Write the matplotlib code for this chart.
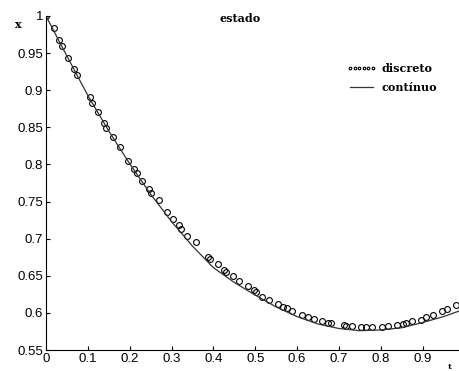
import numpy as np
import matplotlib.pyplot as plt

plt.rcParams['font.family'] = ['Liberation Sans', 'DejaVu Sans']

# discrete samples
t_disc = [0.000, 0.018, 0.032, 0.038, 0.053, 0.067, 0.074, 0.104, 0.109, 0.125,
          0.139, 0.144, 0.160, 0.176, 0.197, 0.210, 0.217, 0.230, 0.245, 0.251,
          0.269, 0.289, 0.303, 0.317, 0.323, 0.338, 0.358, 0.388, 0.392, 0.410,
          0.426, 0.430, 0.447, 0.462, 0.482, 0.496, 0.502, 0.516, 0.532, 0.554,
          0.567, 0.575, 0.588, 0.611, 0.625, 0.640, 0.660, 0.675, 0.680, 0.711,
          0.717, 0.731, 0.752, 0.765, 0.780, 0.804, 0.817, 0.839, 0.852, 0.861,
          0.875, 0.896, 0.909, 0.925, 0.946, 0.958, 0.981]
x_disc = [1.000, 0.984, 0.968, 0.959, 0.944, 0.928, 0.921, 0.891, 0.883, 0.870,
          0.856, 0.849, 0.837, 0.824, 0.805, 0.794, 0.788, 0.778, 0.767, 0.761,
          0.752, 0.736, 0.727, 0.718, 0.713, 0.704, 0.695, 0.675, 0.673, 0.666,
          0.658, 0.655, 0.650, 0.643, 0.636, 0.631, 0.628, 0.622, 0.618, 0.612,
          0.608, 0.606, 0.603, 0.597, 0.595, 0.592, 0.589, 0.587, 0.587, 0.584,
          0.583, 0.583, 0.581, 0.581, 0.581, 0.581, 0.582, 0.584, 0.585, 0.587,
          0.589, 0.591, 0.594, 0.597, 0.602, 0.605, 0.610]

# continuous solution
t_cont = [0.0, 0.05, 0.1, 0.15, 0.2, 0.25, 0.3, 0.35, 0.4, 0.45, 0.5, 0.55,
          0.6, 0.65, 0.7, 0.75, 0.8, 0.85, 0.9, 0.95, 0.99]
x_cont = [1.0, 0.946, 0.893, 0.845, 0.801, 0.760, 0.723, 0.690, 0.661, 0.641,
          0.624, 0.608, 0.595, 0.585, 0.579, 0.576, 0.577, 0.580, 0.587, 0.595,
          0.603]

fig = plt.figure(figsize=(4.59, 3.71), dpi=100)
ax = fig.add_axes([0.1002, 0.0566, 0.8998, 0.9003])

ax.plot(t_disc, x_disc, 'o', mfc='none', mec='black', ms=4.2, mew=0.8,
        label='discreto')
ax.plot(t_cont, x_cont, '-', color='#333333', lw=0.9, label='contínuo')

ax.set_xlim(0, 0.987)
ax.set_ylim(0.55, 1.0)
ax.set_xticks(np.arange(0, 1.0, 0.1))
ax.set_xticklabels(['0', '0.1', '0.2', '0.3', '0.4', '0.5', '0.6', '0.7', '0.8', '0.9'])
ax.set_yticks(np.arange(0.55, 1.001, 0.05))
ax.set_yticklabels(['0.55', '0.6', '0.65', '0.7', '0.75', '0.8', '0.85', '0.9', '0.95', '1'])
ax.tick_params(direction='in', length=3, width=0.8, labelsize=9.5, pad=2)
ax.spines['top'].set_visible(False)
ax.spines['right'].set_visible(False)

serif = {'family': 'DejaVu Serif', 'weight': 'bold'}
fig.text(0.523, 0.951, 'estado', fontdict=serif, fontsize=8, ha='center', va='center')
fig.text(0.04, 0.935, 'x', fontdict=serif, fontsize=8, ha='center', va='center')
fig.text(0.98, 0.012, 't', fontdict=serif, fontsize=6, ha='center', va='center')

leg = ax.legend(loc='upper left', bbox_to_anchor=(0.705, 0.89), frameon=False,
                prop={'family': 'DejaVu Serif', 'weight': 'bold', 'size': 8},
                handlelength=2.6, handletextpad=0.5, labelspacing=0.75,
                numpoints=6, markerscale=0.45)

plt.savefig('out.png', dpi=100)
